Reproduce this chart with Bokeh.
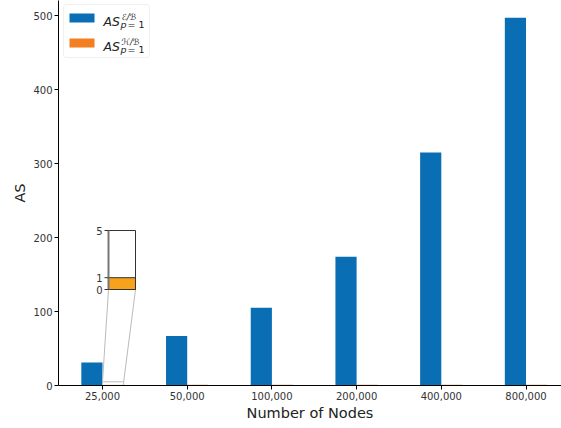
from bokeh.plotting import figure
from bokeh.models import Range1d, FixedTicker, BoxAnnotation
from bokeh.core.properties import value
from bokeh.embed import file_html
from bokeh.resources import INLINE

# ---- data ----
categories = ["25,000", "50,000", "100,000", "200,000", "400,000", "800,000"]
as_eb = [31, 67, 105, 174, 315, 497]      # AS^{E/B}_{p=1}
as_hb = [1, 1, 1, 1, 1, 1]                 # AS^{H/B}_{p=1}
y_ticks = [0, 100, 200, 300, 400, 500]
inset_ticks = [0, 1, 5]
inset_ylim = (0, 5)

BLUE = "#0a6eb4"
ORANGE = "#f47f20"
ORANGE_INSET = "#f6a21c"
FONT = "DejaVu Sans"
TXT = "#333333"

W, H = 561, 428
BORDER_L = 58
BORDER_B = 43
X_START, X_END = -0.5195, 5.419
Y_START, Y_END = 0, 520.3

p = figure(width=W, height=H, output_backend="svg", toolbar_location=None,
           x_range=Range1d(X_START, X_END), y_range=Range1d(Y_START, Y_END),
           min_border_left=BORDER_L, min_border_right=0, min_border_top=0,
           min_border_bottom=BORDER_B)
p.outline_line_color = None
p.xgrid.grid_line_color = None
p.ygrid.grid_line_color = None

# frame in page pixels
FRAME_L, FRAME_R = BORDER_L, W
FRAME_T, FRAME_B = 0, H - BORDER_B
XS = (FRAME_R - FRAME_L) / (X_END - X_START)
YS = (FRAME_B - FRAME_T) / (Y_END - Y_START)

def px_x(px):
    return X_START + (px - FRAME_L) / XS

def px_y(py):
    return Y_START + (FRAME_B - py) / YS

idx = list(range(len(categories)))
bw = 0.25
p.vbar(x=[i - bw / 2 for i in idx], top=as_eb, width=bw, bottom=0,
       fill_color=BLUE, line_color=None)
p.vbar(x=[i + bw / 2 for i in idx], top=as_hb, width=bw, bottom=0,
       fill_color=ORANGE, line_color=None)

# axes
for ax in (p.xaxis[0], p.yaxis[0]):
    ax.axis_line_color = "black"
    ax.axis_line_width = 1
    ax.major_tick_in = 0
    ax.major_tick_out = 4
    ax.major_tick_line_color = "black"
    ax.minor_tick_line_color = None
    ax.major_label_text_font = FONT
    ax.major_label_text_font_size = "10px"
    ax.major_label_text_color = TXT
    ax.axis_label_text_font = FONT
    ax.axis_label_text_font_size = "14.5px"
    ax.axis_label_text_font_style = "normal"
    ax.axis_label_text_color = "#222222"
    ax.major_label_standoff = 2
    ax.axis_label_standoff = 2

p.xaxis.ticker = FixedTicker(ticks=idx)
p.xaxis.major_label_overrides = {i: c for i, c in zip(idx, categories)}
p.xaxis.axis_label = "Number of Nodes"
p.yaxis.ticker = FixedTicker(ticks=y_ticks)
p.yaxis.axis_label = "AS"

# ---- inset (zoom on the H/B bar of the first category) ----
bar_l = idx[0]
bar_r = idx[0] + bw
IX0, IX1 = px_x(108), px_x(135)
IY0, IY1 = px_y(289), px_y(230)

def ix(v):
    return IX0 + (v - bar_l) / (bar_r - bar_l) * (IX1 - IX0)

def iy(v):
    return IY0 + (v - inset_ylim[0]) / (inset_ylim[1] - inset_ylim[0]) * (IY1 - IY0)

# zoomed region marker and connectors
p.quad(left=[bar_l], right=[bar_r], bottom=[inset_ylim[0]], top=[inset_ylim[1]],
       fill_color="white", fill_alpha=0.6, line_color="#bbbbbb", line_width=1)
p.segment(x0=[IX0, IX1], y0=[IY0, IY0], x1=[bar_l, bar_r], y1=[inset_ylim[1], inset_ylim[1]],
          line_color="#bbbbbb", line_width=1)

p.quad(left=[IX0], right=[IX1], bottom=[IY0], top=[IY1],
       fill_color="white", line_color=None)
p.quad(left=[ix(bar_l)], right=[ix(bar_r)], bottom=[iy(0)], top=[iy(as_hb[0])],
       fill_color=ORANGE_INSET, line_color="#333333", line_width=1)
p.quad(left=[IX0], right=[IX1], bottom=[IY0], top=[IY1],
       fill_color=None, line_color="#333333", line_width=1)
p.segment(x0=[IX0], y0=[IY0], x1=[IX0], y1=[IY1], line_color="#777777", line_width=2)
tick_len = 4 / XS
p.segment(x0=[IX0 - tick_len] * len(inset_ticks), y0=[iy(t) for t in inset_ticks],
          x1=[IX0] * len(inset_ticks), y1=[iy(t) for t in inset_ticks],
          line_color="#333333", line_width=1)
p.text(x=[IX0 - tick_len - 2 / XS] * len(inset_ticks), y=[iy(t) for t in inset_ticks],
       text=[str(t) for t in inset_ticks], text_font=value(FONT), text_font_size="10px",
       text_color=TXT, text_align="right", text_baseline="middle")

# ---- legend (drawn by hand for the math labels) ----
leg = BoxAnnotation(left=px_x(63), right=px_x(149), top=px_y(4), bottom=px_y(57),
                    fill_color="white", fill_alpha=0.85, line_color="#cccccc",
                    line_width=1, border_radius=3, level="underlay")
p.add_layout(leg)
entries = [(BLUE, "\u2130/\u212c", 13), (ORANGE, "\u210b/\u212c", 38)]
for color, sup, top_px in entries:
    p.quad(left=[px_x(69)], right=[px_x(94)], top=[px_y(top_px)], bottom=[px_y(top_px + 9)],
           fill_color=color, line_color=None)
    p.text(x=[px_x(103)], y=[px_y(top_px + 8)], text=["AS"], text_font=value(FONT),
           text_font_size="12.5px", text_font_style="italic", text_color="#222222",
           text_baseline="alphabetic", text_align="left")
    p.text(x=[px_x(121)], y=[px_y(top_px + 3)], text=[sup], text_font=value(FONT),
           text_font_size="8.5px", text_font_style="italic", text_color="#222222",
           text_baseline="alphabetic", text_align="left")
    p.text(x=[px_x(120)], y=[px_y(top_px + 11)], text=["p"], text_font=value(FONT),
           text_font_size="9.5px", text_font_style="italic", text_color="#222222",
           text_baseline="alphabetic", text_align="left")
    p.text(x=[px_x(127)], y=[px_y(top_px + 11)], text=["= 1"], text_font=value(FONT),
           text_font_size="9.5px", text_color="#222222",
           text_baseline="alphabetic", text_align="left")

open("out.html", "w").write(file_html(p, INLINE))
